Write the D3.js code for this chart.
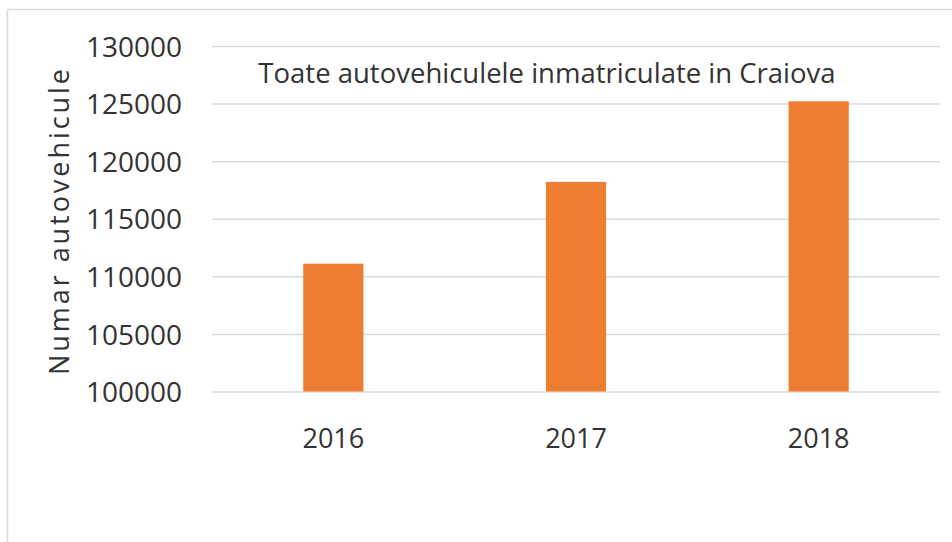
<!DOCTYPE html>
<html>
<head>
<meta charset="utf-8">
<script src="https://cdn.jsdelivr.net/npm/d3@7"></script>
<style>
  html, body { margin: 0; padding: 0; background: #fff; }
  svg { display: block; }
  text { font-family: "Open Sans", "Noto Sans", sans-serif; fill: #333; }
</style>
</head>
<body>
<svg id="chart" width="952" height="542"></svg>
<script>
// Registered vehicles in Craiova, by year
const years = ["2016", "2017", "2018"];
const vehicles = [111100, 118200, 125200];
const yTicks = [100000, 105000, 110000, 115000, 120000, 125000, 130000];

const chartTitle = "Toate autovehiculele inmatriculate in Craiova";
const yTitle = "Numar autovehicule";

const W = 952, H = 542;
const plot = { left: 212, right: 940, top: 46, bottom: 391.5 };

const svg = d3.select("#chart");

// chart frame
svg.append("rect")
  .attr("x", 7.5).attr("y", 9.5)
  .attr("width", W + 20).attr("height", H + 20)
  .attr("fill", "#fff")
  .attr("stroke", "#d9d9d9")
  .attr("stroke-width", 1.5);

const x = d3.scaleBand()
  .domain(years)
  .range([plot.left, plot.right])
  .paddingInner(0.752)
  .paddingOuter(0.376);

const y = d3.scaleLinear()
  .domain([100000, 130000])
  .range([plot.bottom, plot.top]);

// gridlines + value labels
const yAxis = d3.axisLeft(y)
  .tickValues(yTicks)
  .tickSize(-(plot.right - plot.left))
  .tickPadding(30)
  .tickFormat(d3.format("d"));

const gy = svg.append("g")
  .attr("transform", `translate(${plot.left},0)`)
  .call(yAxis);
gy.select(".domain").remove();
gy.selectAll(".tick line").attr("stroke", "#d9d9d9").attr("stroke-width", 1.5);
gy.selectAll(".tick text")
  .attr("font-size", 28)
  .attr("fill", "#333")
  .attr("dy", "0.36em");

// bars
svg.append("g")
  .selectAll("rect")
  .data(years.map((yr, i) => ({ yr, v: vehicles[i] })))
  .join("rect")
  .attr("x", d => x(d.yr))
  .attr("y", d => y(d.v))
  .attr("width", x.bandwidth())
  .attr("height", d => y(100000) - y(d.v))
  .attr("fill", "#ed7d31");

// category labels
const xAxis = d3.axisBottom(x).tickSize(0).tickPadding(37);
const gx = svg.append("g")
  .attr("transform", `translate(0,${plot.bottom})`)
  .call(xAxis);
gx.select(".domain").remove();
gx.selectAll(".tick text")
  .attr("font-size", 27)
  .attr("fill", "#333");

// chart title
svg.append("text")
  .attr("x", 547)
  .attr("y", 83)
  .attr("text-anchor", "middle")
  .attr("font-size", 27.5)
  .text(chartTitle);

// y-axis title
svg.append("text")
  .attr("transform", `translate(69,222) rotate(-90)`)
  .attr("text-anchor", "middle")
  .attr("font-size", 27)
  .attr("textLength", 306)
  .attr("lengthAdjust", "spacing")
  .text(yTitle);
</script>
</body>
</html>
